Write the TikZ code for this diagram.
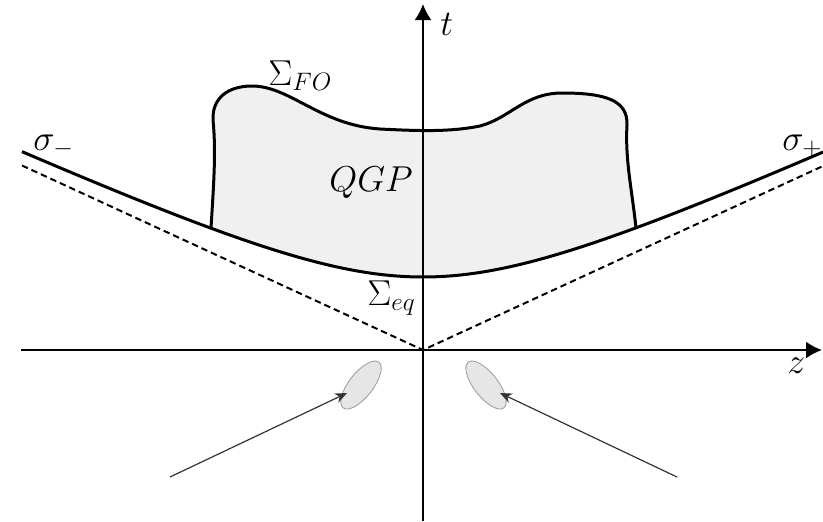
\documentclass[tikz,border=0pt]{standalone}
\usepackage{fix-cm}
\usetikzlibrary{arrows.meta}
\definecolor{qgpfill}{HTML}{F0F0F0}
\definecolor{blobfill}{HTML}{E6E6E6}
\definecolor{blobline}{HTML}{9A9A9A}
\definecolor{arrowgray}{HTML}{333333}
\tikzset{
  axis/.style={line width=1pt, -{Latex[length=8pt,width=8.5pt]}},
  surface/.style={line width=1.5pt, line join=round},
  lightcone/.style={line width=1pt, dash pattern=on 3.2pt off 2pt},
  blob/.style={fill=blobfill, draw=blobline, line width=0.4pt},
  beam/.style={draw=arrowgray, line width=0.6pt, -{Stealth[length=6pt,width=5pt]}},
  lbl/.style={inner sep=0pt, font=\fontsize{18}{22}\selectfont}
}
\begin{document}
\begin{tikzpicture}[x=0.5pt,y=-0.5pt]
\useasboundingbox (0,0) rectangle (823,521);
% key points
\coordinate (O) at (423,350);
\coordinate (xl) at (21,350);
\coordinate (xr) at (822,350);
\coordinate (tb) at (423,521);
\coordinate (tt) at (423,4);
\coordinate (dl) at (22,165.5);
\coordinate (dr) at (823,166);
% QGP region
\fill[qgpfill] (211,228) .. controls (214,180) and (216,150) .. (213,120)
  .. controls (212,98) and (228,86) .. (252,86)
  .. controls (290,86) and (320,125) .. (380,129)
  .. controls (420,131) and (450,132) .. (480,126)
  .. controls (510,118) and (525,93) .. (562,93)
  .. controls (605,93) and (628,100) .. (627,125)
  .. controls (625,160) and (632,190) .. (636,228)
  -- plot[domain=213:-212, samples=60] ({423+\x},{350-10*sqrt(53.29+0.2116*(\x/10)*(\x/10))})
  -- cycle;
\draw[surface] (211,228) .. controls (214,180) and (216,150) .. (213,120)
  .. controls (212,98) and (228,86) .. (252,86)
  .. controls (290,86) and (320,125) .. (380,129)
  .. controls (420,131) and (450,132) .. (480,126)
  .. controls (510,118) and (525,93) .. (562,93)
  .. controls (605,93) and (628,100) .. (627,125)
  .. controls (625,160) and (632,190) .. (636,228);
% Sigma_eq hyperbola
\draw[surface] plot[domain=-401:400, samples=120] ({423+\x},{350-10*sqrt(53.29+0.2116*(\x/10)*(\x/10))});
% light cone
\draw[lightcone] (dl) -- (O) -- (dr);
% axes
\draw[axis] (xl) -- (xr);
\draw[axis] (tb) -- (tt);
% nuclei
\draw[blob, rotate around={52:(361,385)}] (361,385) ellipse [x radius=29, y radius=12];
\draw[blob, rotate around={-52:(486,385)}] (486,385) ellipse [x radius=29, y radius=12];
\coordinate (al) at (170,477);
\coordinate (alt) at (347,393);
\coordinate (ar) at (677,477);
\coordinate (art) at (500,393);
\draw[beam] (al) -- (alt);
\draw[beam] (ar) -- (art);
% labels
\node[lbl, anchor=base west] (lt) at (440,35) {$t$};
\node[lbl, anchor=base west] (lz) at (787,373) {$z$};
\node[lbl, anchor=base west] (lfo) at (268,85) {$\Sigma_{FO}$};
\node[lbl, anchor=base west] (lqgp) at (329,191) {$QGP$};
\node[lbl, anchor=base west] (leq) at (367,305) {$\Sigma_{eq}$};
\node[lbl, anchor=base west] (lsm) at (33,150) {$\sigma_-$};
\node[lbl, anchor=base west] (lsp) at (782,150) {$\sigma_+$};
\end{tikzpicture}
\end{document}
